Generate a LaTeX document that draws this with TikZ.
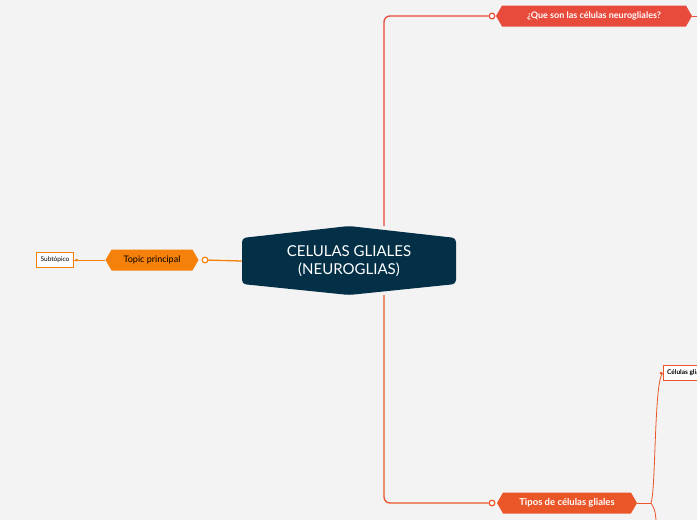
\documentclass[tikz,border=0pt]{standalone}
\usepackage{fontspec}
\setmainfont{Lato}
\usetikzlibrary{positioning,shapes.geometric,shapes.symbols}
\definecolor{navy}{RGB}{3,48,71}
\definecolor{topicor}{RGB}{245,128,10}
\definecolor{redmain}{RGB}{232,74,60}
\definecolor{redtipos}{RGB}{235,86,40}
\definecolor{bgc}{RGB}{243,243,243}

\begin{document}
\begin{tikzpicture}[
        x=1pt, y=-1pt,
        central/.style={
                text=white,
                font=\fontsize{15}{18}\selectfont,
                align=center,
                minimum width=214pt,
                minimum height=70pt,
                inner sep=0pt
            },
        topic/.style={
                signal, signal to=east and west, signal pointer angle=120,
                fill=#1,
                minimum height=21pt,
                inner xsep=8pt,
                font=\fontsize{9}{10}\selectfont
            },
        subtopic/.style={
                rectangle,
                draw=#1,
                fill=white,
                font=\fontsize{6.5}{7}\selectfont,
                minimum height=15pt,
                inner xsep=4pt
            },
        marker/.style={circle, draw=#1, fill=white, line width=1.2pt, inner sep=2pt},
        link/.style={draw=#1, line width=1.3pt, rounded corners=6pt}
    ]
    \fill[bgc] (0,0) rectangle (697,520);
    \useasboundingbox (0,0) rectangle (697,520);

    \node[central] (root) at (349,261) {CELULAS GLIALES\\(NEUROGLIAS)};
    \fill[navy, rounded corners=4pt] (242,238) -- (349,226) -- (456,238) -- (456,284) -- (349,295) -- (242,284) -- cycle;
    \node[central] at (root) {CELULAS GLIALES\\(NEUROGLIAS)};

    \node[topic=topicor, minimum width=93pt] (principal) at (152,260) {Topic principal};
    \node[subtopic=topicor] (sub) at (55,260) {Subtópico};
    \node[marker=topicor] (mprincipal) at (205,260) {};
    \draw[link=topicor] (root.west) -- (mprincipal);
    \draw[topicor, line width=0.8pt] (principal.west) -- (sub.east);
    \fill[topicor] (sub.east) ++(3,0) circle (1.5pt);

    \node[topic=redmain, text=white, minimum width=196pt, font=\fontsize{9}{10}\selectfont\bfseries] (que) at (594,16) {¿Que son las células neurogliales?};
    \node[marker=redmain] (mque) at (492,16) {};
    \draw[link=redmain] (384,226) -- (384,16) -- (mque);
    \draw[redmain, line width=1pt] (que.east) -- (697,16);

    \node[topic=redtipos, text=white, minimum width=140pt, font=\fontsize{9.5}{10}\selectfont\bfseries] (tipos) at (567,503) {Tipos de células gliales};
    \node[marker=redtipos] (mtipos) at (492,503) {};
    \draw[link=redtipos] (384,295) -- (384,503) -- (mtipos);

    \node[subtopic=redtipos, anchor=west, font=\fontsize{6.5}{7}\selectfont\bfseries] (celulas) at (663,373) {Células gliales};
    \coordinate (fork) at (651,503);
    \draw[redtipos, line width=0.8pt] (tipos.east) -- (fork);
    \draw[redtipos, line width=0.8pt] (fork) .. controls (656,490) and (654,378) .. (celulas.west);
    \draw[redtipos, line width=0.8pt] (fork) .. controls (655,510) .. (656,520);
    \fill[redtipos] (celulas.west) ++(-2,0) circle (1.5pt);
\end{tikzpicture}
\end{document}
